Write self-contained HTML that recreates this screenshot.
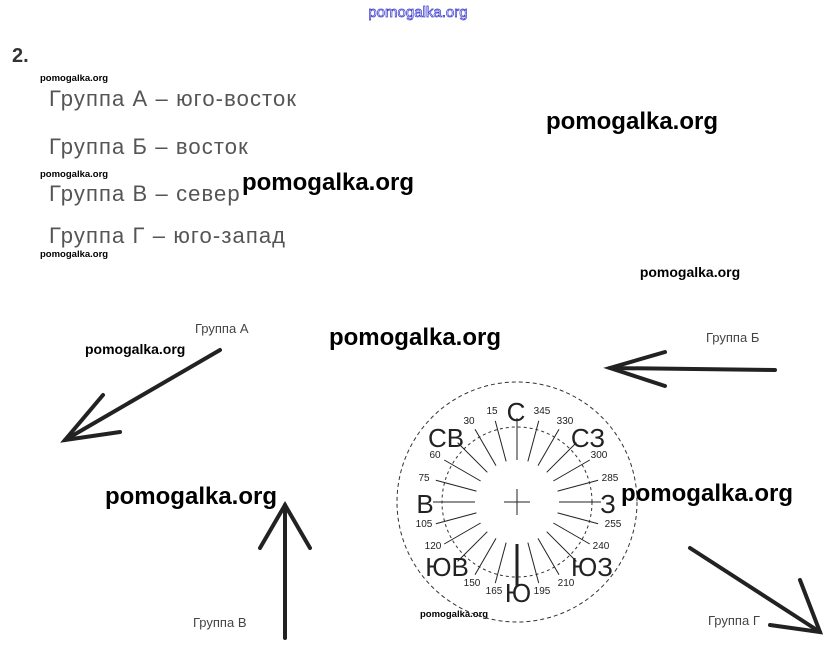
<!DOCTYPE html>
<html><head><meta charset="utf-8"><style>
html,body{margin:0;padding:0;background:#fff;width:834px;height:655px;overflow:hidden}
svg{display:block}
.l{font-family:"Liberation Sans",sans-serif;font-size:22px;fill:#555;letter-spacing:1.1px}
.w{font-family:"Liberation Sans",sans-serif;font-weight:bold;font-size:24px;fill:#000}
.s{font-family:"Liberation Sans",sans-serif;font-weight:bold;font-size:9.5px;fill:#000}
.m{font-family:"Liberation Sans",sans-serif;font-weight:bold;font-size:14px;fill:#000}
.g{font-family:"Liberation Sans",sans-serif;font-size:13px;fill:#444}
.n{font-family:"Liberation Sans",sans-serif;font-size:10px;fill:#222;text-anchor:middle}
.b{font-family:"Liberation Sans",sans-serif;font-size:26px;fill:#222;text-anchor:middle}
</style></head><body>
<svg width="834" height="655" viewBox="0 0 834 655" xmlns="http://www.w3.org/2000/svg">
<text x="418" y="17" text-anchor="middle" style="font-family:'Liberation Sans',sans-serif;font-size:15px;fill:#fff;stroke:#33c;stroke-width:0.7">pomogalka.org</text>
<text x="12" y="62" style="font-family:'Liberation Sans',sans-serif;font-weight:bold;font-size:20px;fill:#333">2.</text>
<text class="s" x="40" y="81">pomogalka.org</text>
<text class="l" x="49" y="106">Группа А – юго-восток</text>
<text class="l" x="49" y="154">Группа Б – восток</text>
<text class="s" x="40" y="177">pomogalka.org</text>
<text class="l" x="49" y="201">Группа В – север</text>
<text class="l" x="49" y="243">Группа Г – юго-запад</text>
<text class="s" x="40" y="257">pomogalka.org</text>
<text class="w" x="632" y="129" text-anchor="middle">pomogalka.org</text>
<text class="w" x="328" y="190" text-anchor="middle">pomogalka.org</text>
<text class="m" x="690" y="277" text-anchor="middle">pomogalka.org</text>
<text class="w" x="415" y="345" text-anchor="middle">pomogalka.org</text>
<text class="m" x="85" y="354">pomogalka.org</text>
<text class="w" x="191" y="504" text-anchor="middle">pomogalka.org</text>
<text class="s" x="420" y="617">pomogalka.org</text>
<text class="g" x="195" y="333">Группа А</text>
<text class="g" x="706" y="342">Группа Б</text>
<text class="g" x="193" y="627">Группа В</text>
<text class="g" x="708" y="625">Группа Г</text>
<g stroke="#222" stroke-width="4" stroke-linecap="round" fill="none">
<line x1="220" y1="350" x2="65" y2="440"/><polyline points="103,395 65,440 120,432"/>
<line x1="775" y1="370" x2="610" y2="368"/><polyline points="665,352 610,368 665,386"/>
<line x1="285" y1="638" x2="285" y2="505"/><polyline points="260,548 285,505 310,548"/>
<line x1="690" y1="548" x2="820" y2="632"/><polyline points="800,580 820,632 770,625"/>
</g>
<g fill="none" stroke="#333" stroke-width="1">
<circle cx="517" cy="502" r="120" stroke-dasharray="4,3"/>
<circle cx="517" cy="502" r="75" stroke-dasharray="3,3"/>
</g>
<g stroke="#222" stroke-width="1">
<line x1="517" y1="460" x2="517" y2="418" transform="rotate(0 517 502)"/>
<line x1="517" y1="460" x2="517" y2="418" transform="rotate(15 517 502)"/>
<line x1="517" y1="460" x2="517" y2="418" transform="rotate(30 517 502)"/>
<line x1="517" y1="460" x2="517" y2="418" transform="rotate(45 517 502)"/>
<line x1="517" y1="460" x2="517" y2="418" transform="rotate(60 517 502)"/>
<line x1="517" y1="460" x2="517" y2="418" transform="rotate(75 517 502)"/>
<line x1="517" y1="460" x2="517" y2="418" transform="rotate(90 517 502)"/>
<line x1="517" y1="460" x2="517" y2="418" transform="rotate(105 517 502)"/>
<line x1="517" y1="460" x2="517" y2="418" transform="rotate(120 517 502)"/>
<line x1="517" y1="460" x2="517" y2="418" transform="rotate(135 517 502)"/>
<line x1="517" y1="460" x2="517" y2="418" transform="rotate(150 517 502)"/>
<line x1="517" y1="460" x2="517" y2="418" transform="rotate(165 517 502)"/>
<line x1="517" y1="460" x2="517" y2="418" transform="rotate(180 517 502)" stroke-width="3"/>
<line x1="517" y1="460" x2="517" y2="418" transform="rotate(195 517 502)"/>
<line x1="517" y1="460" x2="517" y2="418" transform="rotate(210 517 502)"/>
<line x1="517" y1="460" x2="517" y2="418" transform="rotate(225 517 502)"/>
<line x1="517" y1="460" x2="517" y2="418" transform="rotate(240 517 502)"/>
<line x1="517" y1="460" x2="517" y2="418" transform="rotate(255 517 502)"/>
<line x1="517" y1="460" x2="517" y2="418" transform="rotate(270 517 502)"/>
<line x1="517" y1="460" x2="517" y2="418" transform="rotate(285 517 502)"/>
<line x1="517" y1="460" x2="517" y2="418" transform="rotate(300 517 502)"/>
<line x1="517" y1="460" x2="517" y2="418" transform="rotate(315 517 502)"/>
<line x1="517" y1="460" x2="517" y2="418" transform="rotate(330 517 502)"/>
<line x1="517" y1="460" x2="517" y2="418" transform="rotate(345 517 502)"/>
<line x1="504" y1="502" x2="530" y2="502"/><line x1="517" y1="489" x2="517" y2="515"/>
</g>
<g class="n">
<text class="n" x="492" y="414">15</text><text class="n" x="469" y="424">30</text>
<text class="n" x="435" y="458">60</text><text class="n" x="424" y="481">75</text>
<text class="n" x="424" y="527">105</text><text class="n" x="433" y="549">120</text>
<text class="n" x="472" y="586">150</text><text class="n" x="494" y="594">165</text>
<text class="n" x="542" y="594">195</text><text class="n" x="566" y="586">210</text>
<text class="n" x="601" y="549">240</text><text class="n" x="613" y="527">255</text>
<text class="n" x="610" y="481">285</text><text class="n" x="599" y="458">300</text>
<text class="n" x="565" y="424">330</text><text class="n" x="542" y="414">345</text>
</g>
<text class="b" x="516" y="421">С</text>
<text class="b" x="446" y="447">СВ</text>
<text class="b" x="588" y="447">СЗ</text>
<text class="b" x="425" y="513">В</text>
<text class="b" x="608" y="513">З</text>
<text class="b" x="447" y="576">ЮВ</text>
<text class="b" x="592" y="576">ЮЗ</text>
<text class="b" x="518" y="602">Ю</text>
<text class="w" x="707" y="501" text-anchor="middle">pomogalka.org</text>
</svg>
</body></html>
